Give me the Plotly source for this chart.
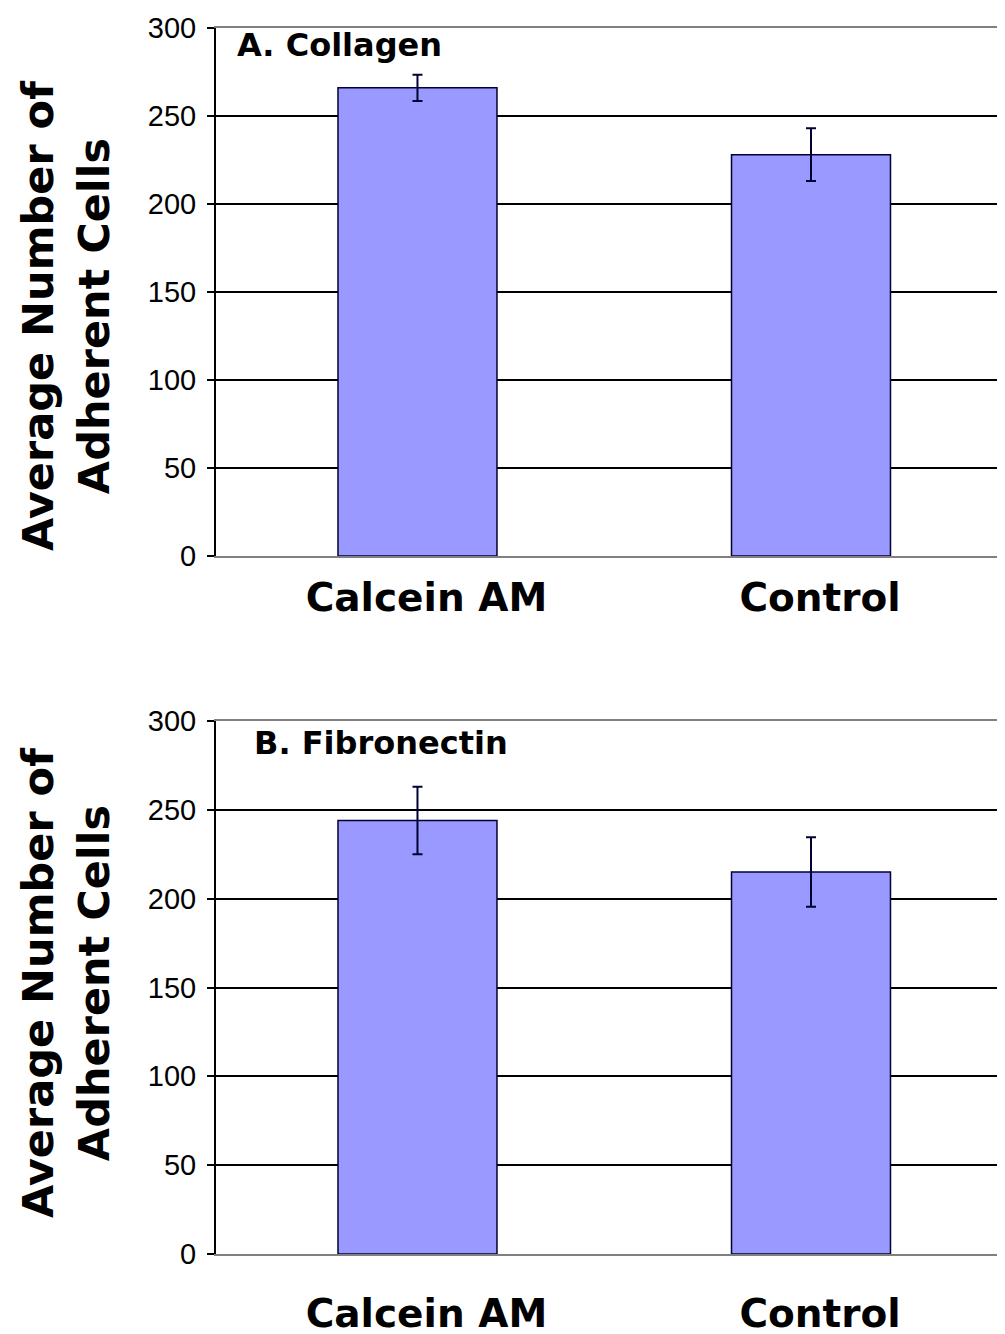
import plotly.graph_objects as go

categories = ["Calcein AM", "Control"]
collagen_means = [266, 228]
collagen_err = [7.5, 15]
fibronectin_means = [244, 215]
fibronectin_err = [19, 19.5]
y_ticks = [0, 50, 100, 150, 200, 250, 300]
panel_titles = ["A. Collagen", "B. Fibronectin"]
y_title = "Average Number of<br>Adherent Cells"

W, H = 1005, 1334
OFF = 8  # page body margin offset of the rendered figure
BAR = "#9999FF"
BOLD = "DejaVu Sans"
NARROW = "Liberation Sans Narrow, Liberation Sans, Arial"

fig = go.Figure()

def add_panel(means, errs, xa, ya):
    fig.add_trace(go.Bar(
        x=categories, y=means, width=0.404,
        marker=dict(color=BAR, line=dict(color="#000033", width=1.5)),
        error_y=dict(type="data", array=errs, visible=True, color="#000033",
                     thickness=2, width=5),
        xaxis=xa, yaxis=ya, showlegend=False,
    ))

add_panel(collagen_means, collagen_err, "x", "y")
add_panel(fibronectin_means, fibronectin_err, "x2", "y2")

def py(v):
    return 1 - (v - OFF) / H

def pxx(v):
    return (v - OFF) / W

def px_dom(top, bottom):
    return [py(bottom), py(top)]

xdom = [pxx(216), 1.0]
xrange_ = [-0.512, 1.493 + OFF / 393.5]
common_x = dict(range=xrange_, showgrid=False, showline=True, linecolor="#808080",
                linewidth=1.5, mirror=True, ticks="", zeroline=False, automargin=False,
                ticklabelshift=9,
                tickfont=dict(family=BOLD, size=39, color="black", weight="bold"))
common_y = dict(range=[0, 300], tickvals=y_ticks, showgrid=True, gridcolor="black",
                gridwidth=2, showline=True, linecolor="black", linewidth=2,
                ticks="outside", ticklen=7, tickwidth=2, tickcolor="black",
                ticklabelstandoff=5, zeroline=False, automargin=False,
                tickfont=dict(family=NARROW, size=29, color="black"))

fig.update_layout(
    width=W, height=H, autosize=False,
    margin=dict(l=0, r=0, t=0, b=0, pad=0),
    paper_bgcolor="white", plot_bgcolor="white",
    bargap=0.5,
    xaxis=dict(domain=xdom, anchor="y", ticklabelstandoff=6, **common_x),
    yaxis=dict(domain=px_dom(28, 556), anchor="x", **common_y),
    xaxis2=dict(domain=xdom, anchor="y2", ticklabelstandoff=24, **common_x),
    yaxis2=dict(domain=px_dom(721, 1254), anchor="x2", **common_y),
)

# panel titles
fig.add_annotation(text=panel_titles[0], xref="paper", yref="paper",
                   x=pxx(235), y=py(45), xanchor="left", yanchor="middle",
                   showarrow=False, font=dict(family=BOLD, size=32, color="black", weight="bold"))
fig.add_annotation(text=panel_titles[1], xref="paper", yref="paper",
                   x=pxx(252), y=py(743), xanchor="left", yanchor="middle",
                   showarrow=False, font=dict(family=BOLD, size=32, color="black", weight="bold"))

# y-axis titles
for yc in (316, 983):
    fig.add_annotation(text=y_title, xref="paper", yref="paper",
                       x=pxx(66), y=py(yc), xanchor="center", yanchor="middle",
                       textangle=-90, showarrow=False,
                       font=dict(family=BOLD, size=43, color="black", weight="bold"))

fig.write_html("out.html")
